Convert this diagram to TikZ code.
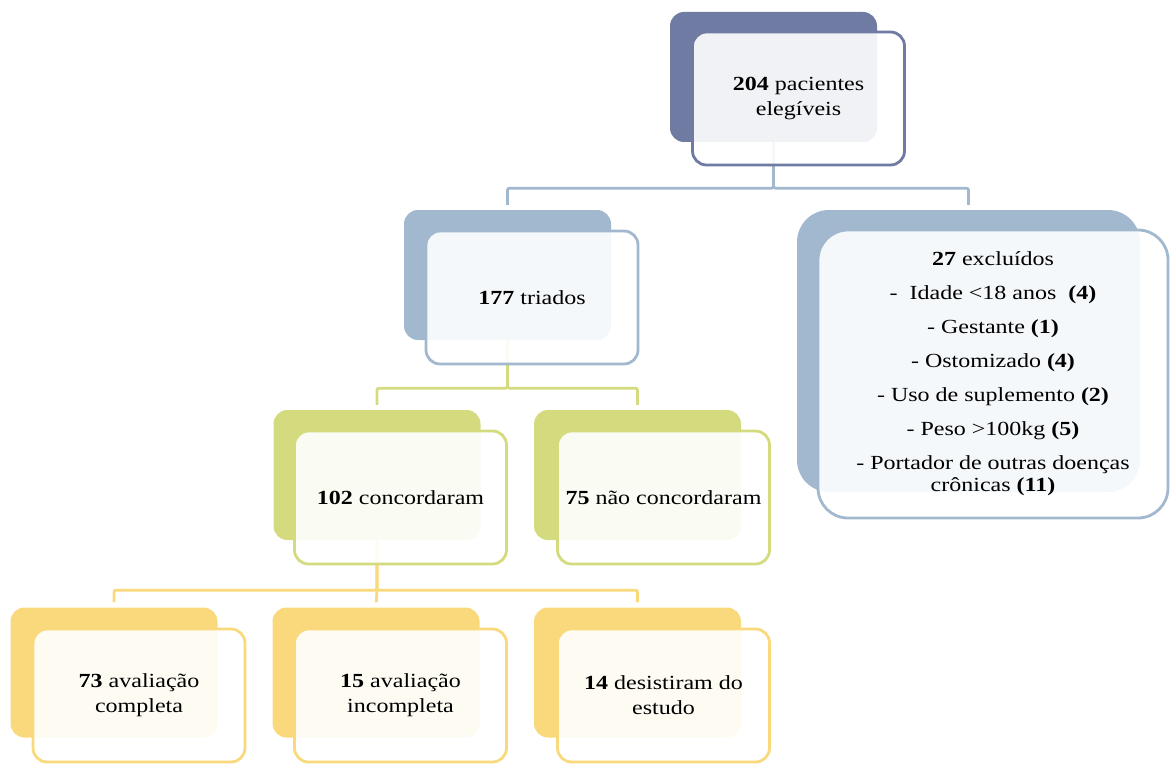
\documentclass[tikz,border=0pt]{standalone}
\usepackage{fontspec}
\setmainfont[FakeStretch=1.2]{Liberation Serif}
\definecolor{cltop}{HTML}{6F7BA2}
\definecolor{clblue}{HTML}{A2B8CE}
\definecolor{clgreen}{HTML}{D4DA7E}
\definecolor{clyellow}{HTML}{FAD97C}
\tikzset{
  backbox/.style={fill=#1, rounded corners=14pt, minimum width=207pt, minimum height=130pt, inner sep=0pt},
  frontbox/.style={draw=#1, line width=2.8pt, fill=white, fill opacity=.9, text opacity=1, rounded corners=14pt,
    minimum width=212pt, minimum height=133pt, inner sep=0pt, align=center, font=\fontsize{20}{22}\selectfont},
  link/.style={draw=#1, line width=2.8pt, rounded corners=2pt, shorten >=5pt}
}

\begin{document}
\begin{tikzpicture}[x=1pt, y=1pt]
    \useasboundingbox (0,0) rectangle (1172,-765);
    % back boxes
    \node[backbox=cltop] (eleg-b) at (773.5,-77) {};
    \node[backbox=clblue] (triad-b) at (507.5,-275) {};
    \node[backbox=clblue, minimum width=343pt, minimum height=282pt, rounded corners=32pt] (excl-b) at (968.5,-351) {};
    \node[backbox=clgreen] (conc-b) at (377,-475) {};
    \node[backbox=clgreen] (naoc-b) at (637.5,-475) {};
    \node[backbox=clyellow] (compl-b) at (114,-672.5) {};
    \node[backbox=clyellow] (incompl-b) at (376,-672.5) {};
    \node[backbox=clyellow] (desist-b) at (637.5,-672.5) {};
    % connectors
    \draw[link=clblue] (eleg-b.south) -- ++(0,-46) -| (triad-b.north);
    \draw[link=clblue] (eleg-b.south) -- ++(0,-46) -| (excl-b.north);
    \draw[link=clgreen] (triad-b.south) -- ++(0,-48) -| (conc-b.north);
    \draw[link=clgreen] (triad-b.south) -- ++(0,-48) -| (naoc-b.north);
    \draw[link=clyellow] (conc-b.south) -- ++(0,-50) -| (compl-b.north);
    \draw[link=clyellow] (conc-b.south) -- ++(0,-50) -- (incompl-b.north);
    \draw[link=clyellow] (conc-b.south) -- ++(0,-50) -| (desist-b.north);
    % front boxes
    \node[frontbox=cltop] (eleg) at (798.5,-98.5) {\textbf{204} pacientes\\[3pt]elegíveis};
    \node[frontbox=clblue] (triad) at (532,-297.5) {\textbf{177} triados};
    \node[frontbox=clblue, minimum width=350pt, minimum height=288pt, rounded corners=30pt] (excl) at (993,-374)
        {\textbf{27} excluídos\\[12pt]
        -\ \ Idade <18 anos\ \ \textbf{(4)}\\[12pt]
        - Gestante \textbf{(1)}\\[12pt]
        - Ostomizado \textbf{(4)}\\[12pt]
        - Uso de suplemento \textbf{(2)}\\[12pt]
        - Peso >100kg \textbf{(5)}\\[12pt]
        - Portador de outras doenças\\
        crônicas \textbf{(11)}};
    \node[frontbox=clgreen] (conc) at (400.5,-497.5) {\textbf{102} concordaram};
    \node[frontbox=clgreen] (naoc) at (663.5,-497.5) {\textbf{75} não concordaram};
    \node[frontbox=clyellow] (compl) at (139,-695.5) {\textbf{73} avaliação\\[3pt]completa};
    \node[frontbox=clyellow] (incompl) at (400.5,-695.5) {\textbf{15} avaliação\\[3pt]incompleta};
    \node[frontbox=clyellow] (desist) at (663.5,-695.5) {\textbf{14} desistiram do\\[3pt]estudo};
\end{tikzpicture}
\end{document}
